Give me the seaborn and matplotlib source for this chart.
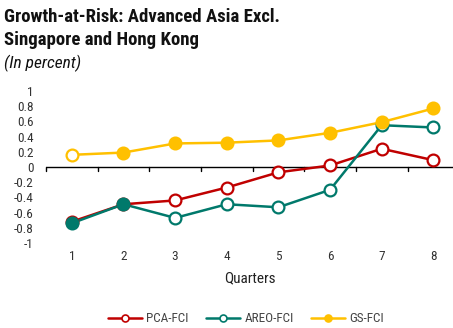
import matplotlib
matplotlib.use("Agg")
import matplotlib.pyplot as plt
import seaborn as sns
import pandas as pd
from matplotlib.lines import Line2D

quarters = [1, 2, 3, 4, 5, 6, 7, 8]
pca_fci = [-0.72, -0.49, -0.44, -0.27, -0.07, 0.02, 0.24, 0.09]
areo_fci = [-0.74, -0.49, -0.67, -0.49, -0.53, -0.30, 0.55, 0.52]
gs_fci = [0.16, 0.19, 0.31, 0.32, 0.35, 0.45, 0.59, 0.77]
pca_filled = [False] * 8
areo_filled = [True, True, False, False, False, False, False, False]
gs_filled = [False, True, True, True, True, True, True, True]
series_names = ["PCA-FCI", "AREO-FCI", "GS-FCI"]
colors = ["#C00000", "#00796B", "#FFC000"]
yticks = [1, 0.8, 0.6, 0.4, 0.2, 0, -0.2, -0.4, -0.6, -0.8, -1]

sns.set_theme(style="white")
plt.rcParams["font.family"] = ["Roboto Condensed", "DejaVu Sans"]

fig = plt.figure(figsize=(4.53, 3.28), dpi=100)
ax = fig.add_axes([46 / 453, (328 - 243) / 328, (453 - 46) / 453, (243 - 91) / 328])

df = pd.DataFrame({"q": quarters * 3,
                   "v": pca_fci + areo_fci + gs_fci,
                   "s": [n for n in series_names for _ in quarters],
                   "f": pca_filled + areo_filled + gs_filled})

for name, col in zip(series_names, colors):
    sub = df[df.s == name]
    sns.lineplot(data=sub, x="q", y="v", color=col, lw=1.8, ax=ax, legend=False, zorder=2)
    for _, r in sub.iterrows():
        ax.plot(r.q, r.v, marker="o", ms=8.5, mew=1.6, color=col,
                mfc=col if r.f else "white", zorder=3, clip_on=False)

ax.set_xlim(0.5, 8.38)
ax.set_ylim(-1, 1)
ax.set_yticks(yticks)
ax.set_yticklabels([f"{t:g}" for t in yticks], fontsize=9.5, color="#333333")
ax.set_xticks(quarters)
ax.set_xticklabels([str(q) for q in quarters], fontsize=9.5, color="#333333")
for s in ["top", "right", "left", "bottom"]:
    ax.spines[s].set_visible(False)
ax.axhline(0, color="black", lw=1, zorder=1)
for b in [0.5 + i for i in range(9)]:
    ax.plot([b, b], [0, -0.05], color="black", lw=1, zorder=1, clip_on=False)
ax.tick_params(axis="both", length=0, pad=2)
ax.tick_params(axis="y", pad=9)
ax.tick_params(axis="x", pad=5)
ax.set_xlabel("Quarters", fontsize=11, color="#222222", labelpad=6)
ax.set_ylabel("")

handles = [Line2D([0], [0], color=c, lw=1.8, marker="o", ms=5, mew=1.2,
                  mfc=("white" if i < 2 else c)) for i, c in enumerate(colors)]
fig.legend(handles, series_names, loc="center", bbox_to_anchor=(246 / 453, 1 - 319 / 328),
           ncol=3, frameon=False, fontsize=9.5, handlelength=2.6, columnspacing=1.3,
           handletextpad=0.3, labelcolor="#444444")

fig.text(4 / 453, 1 - 17 / 328, "Growth-at-Risk: Advanced Asia Excl.", fontsize=13.5,
         fontweight="bold", va="center", ha="left", color="#111111")
fig.text(4 / 453, 1 - 40 / 328, "Singapore and Hong Kong", fontsize=13.5,
         fontweight="bold", va="center", ha="left", color="#111111")
fig.text(4 / 453, 1 - 63 / 328, "(In percent)", fontsize=12.5, style="italic",
         va="center", ha="left", color="#111111")

fig.savefig("out.png", dpi=100)
